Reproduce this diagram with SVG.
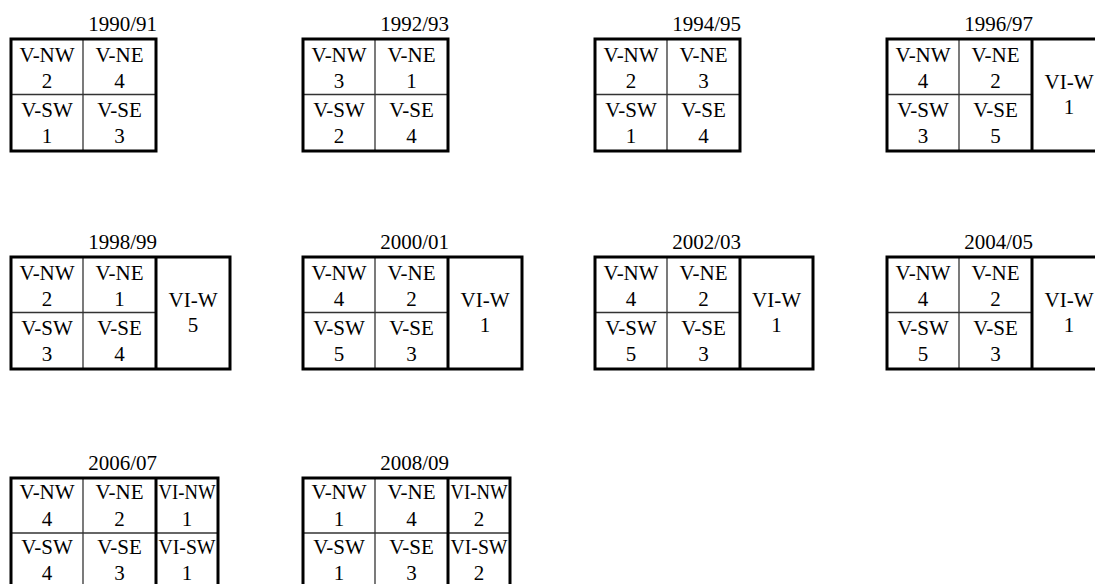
<svg xmlns="http://www.w3.org/2000/svg" width="1095" height="584" viewBox="0 0 1095 584">
<style>
.outer{fill:none;stroke:#000;stroke-width:3}
.thin{stroke:#333;stroke-width:1.3}
.thick{stroke:#000;stroke-width:3}
text{font-family:"Liberation Serif","Times New Roman",serif;font-size:21px;fill:#000;text-anchor:middle}
.title{text-anchor:end}
.vi6{font-size:20px}
</style>
<rect width="1095" height="584" fill="#fff"/>

<!-- Row 1 -->
<g id="t1990">
<text class="title" x="157" y="31">1990/91</text>
<line class="thin" x1="83" y1="39" x2="83" y2="151"/>
<line class="thin" x1="11" y1="94.5" x2="156" y2="94.5"/>
<rect class="outer" x="11" y="39" width="145" height="112"/>
<text x="47" y="62">V-NW</text><text x="47" y="88">2</text>
<text x="119.5" y="62">V-NE</text><text x="119.5" y="88">4</text>
<text x="47" y="117">V-SW</text><text x="47" y="143">1</text>
<text x="119.5" y="117">V-SE</text><text x="119.5" y="143">3</text>
</g>

<g id="t1992">
<text class="title" x="449" y="31">1992/93</text>
<line class="thin" x1="375" y1="39" x2="375" y2="151"/>
<line class="thin" x1="303" y1="94.5" x2="448" y2="94.5"/>
<rect class="outer" x="303" y="39" width="145" height="112"/>
<text x="339" y="62">V-NW</text><text x="339" y="88">3</text>
<text x="411.5" y="62">V-NE</text><text x="411.5" y="88">1</text>
<text x="339" y="117">V-SW</text><text x="339" y="143">2</text>
<text x="411.5" y="117">V-SE</text><text x="411.5" y="143">4</text>
</g>

<g id="t1994">
<text class="title" x="741" y="31">1994/95</text>
<line class="thin" x1="667" y1="39" x2="667" y2="151"/>
<line class="thin" x1="595" y1="94.5" x2="740" y2="94.5"/>
<rect class="outer" x="595" y="39" width="145" height="112"/>
<text x="631" y="62">V-NW</text><text x="631" y="88">2</text>
<text x="703.5" y="62">V-NE</text><text x="703.5" y="88">3</text>
<text x="631" y="117">V-SW</text><text x="631" y="143">1</text>
<text x="703.5" y="117">V-SE</text><text x="703.5" y="143">4</text>
</g>

<g id="t1996">
<text class="title" x="1033" y="31">1996/97</text>
<line class="thin" x1="959" y1="39" x2="959" y2="151"/>
<line class="thin" x1="887" y1="94.5" x2="1032" y2="94.5"/>
<line class="thick" x1="1032" y1="39" x2="1032" y2="151"/>
<rect class="outer" x="887" y="39" width="219" height="112"/>
<text x="923" y="62">V-NW</text><text x="923" y="88">4</text>
<text x="995.5" y="62">V-NE</text><text x="995.5" y="88">2</text>
<text x="923" y="117">V-SW</text><text x="923" y="143">3</text>
<text x="995.5" y="117">V-SE</text><text x="995.5" y="143">5</text>
<text x="1069" y="89">VI-W</text><text x="1069" y="114">1</text>
</g>

<!-- Row 2 -->
<g id="t1998">
<text class="title" x="157" y="249">1998/99</text>
<line class="thin" x1="83" y1="257" x2="83" y2="369"/>
<line class="thin" x1="11" y1="312.5" x2="156" y2="312.5"/>
<line class="thick" x1="156" y1="257" x2="156" y2="369"/>
<rect class="outer" x="11" y="257" width="219" height="112"/>
<text x="47" y="280">V-NW</text><text x="47" y="306">2</text>
<text x="119.5" y="280">V-NE</text><text x="119.5" y="306">1</text>
<text x="47" y="335">V-SW</text><text x="47" y="361">3</text>
<text x="119.5" y="335">V-SE</text><text x="119.5" y="361">4</text>
<text x="193" y="307">VI-W</text><text x="193" y="332">5</text>
</g>

<g id="t2000">
<text class="title" x="449" y="249">2000/01</text>
<line class="thin" x1="375" y1="257" x2="375" y2="369"/>
<line class="thin" x1="303" y1="312.5" x2="448" y2="312.5"/>
<line class="thick" x1="448" y1="257" x2="448" y2="369"/>
<rect class="outer" x="303" y="257" width="219" height="112"/>
<text x="339" y="280">V-NW</text><text x="339" y="306">4</text>
<text x="411.5" y="280">V-NE</text><text x="411.5" y="306">2</text>
<text x="339" y="335">V-SW</text><text x="339" y="361">5</text>
<text x="411.5" y="335">V-SE</text><text x="411.5" y="361">3</text>
<text x="485" y="307">VI-W</text><text x="485" y="332">1</text>
</g>

<g id="t2002">
<text class="title" x="741" y="249">2002/03</text>
<line class="thin" x1="667" y1="257" x2="667" y2="369"/>
<line class="thin" x1="595" y1="312.5" x2="740" y2="312.5"/>
<line class="thick" x1="740" y1="257" x2="740" y2="369"/>
<rect class="outer" x="595" y="257" width="218" height="112"/>
<text x="631" y="280">V-NW</text><text x="631" y="306">4</text>
<text x="703.5" y="280">V-NE</text><text x="703.5" y="306">2</text>
<text x="631" y="335">V-SW</text><text x="631" y="361">5</text>
<text x="703.5" y="335">V-SE</text><text x="703.5" y="361">3</text>
<text x="776.5" y="307">VI-W</text><text x="776.5" y="332">1</text>
</g>

<g id="t2004">
<text class="title" x="1033" y="249">2004/05</text>
<line class="thin" x1="959" y1="257" x2="959" y2="369"/>
<line class="thin" x1="887" y1="312.5" x2="1032" y2="312.5"/>
<line class="thick" x1="1032" y1="257" x2="1032" y2="369"/>
<rect class="outer" x="887" y="257" width="219" height="112"/>
<text x="923" y="280">V-NW</text><text x="923" y="306">4</text>
<text x="995.5" y="280">V-NE</text><text x="995.5" y="306">2</text>
<text x="923" y="335">V-SW</text><text x="923" y="361">5</text>
<text x="995.5" y="335">V-SE</text><text x="995.5" y="361">3</text>
<text x="1069" y="307">VI-W</text><text x="1069" y="332">1</text>
</g>

<!-- Row 3 -->
<g id="t2006">
<text class="title" x="157" y="470">2006/07</text>
<line class="thin" x1="83" y1="478" x2="83" y2="590"/>
<line class="thin" x1="11" y1="533" x2="218" y2="533"/>
<line class="thick" x1="156" y1="478" x2="156" y2="590"/>
<rect class="outer" x="11" y="478" width="207" height="112"/>
<text x="47" y="499">V-NW</text><text x="47" y="526">4</text>
<text x="119.5" y="499">V-NE</text><text x="119.5" y="526">2</text>
<text class="vi6" x="187" y="499" textLength="57" lengthAdjust="spacingAndGlyphs">VI-NW</text><text x="187" y="526">1</text>
<text x="47" y="554">V-SW</text><text x="47" y="580">4</text>
<text x="119.5" y="554">V-SE</text><text x="119.5" y="580">3</text>
<text class="vi6" x="187" y="554" textLength="57" lengthAdjust="spacingAndGlyphs">VI-SW</text><text x="187" y="580">1</text>
</g>

<g id="t2008">
<text class="title" x="449" y="470">2008/09</text>
<line class="thin" x1="375" y1="478" x2="375" y2="590"/>
<line class="thin" x1="303" y1="533" x2="510" y2="533"/>
<line class="thick" x1="448" y1="478" x2="448" y2="590"/>
<rect class="outer" x="303" y="478" width="207" height="112"/>
<text x="339" y="499">V-NW</text><text x="339" y="526">1</text>
<text x="411.5" y="499">V-NE</text><text x="411.5" y="526">4</text>
<text class="vi6" x="479" y="499" textLength="57" lengthAdjust="spacingAndGlyphs">VI-NW</text><text x="479" y="526">2</text>
<text x="339" y="554">V-SW</text><text x="339" y="580">1</text>
<text x="411.5" y="554">V-SE</text><text x="411.5" y="580">3</text>
<text class="vi6" x="479" y="554" textLength="57" lengthAdjust="spacingAndGlyphs">VI-SW</text><text x="479" y="580">2</text>
</g>
</svg>
